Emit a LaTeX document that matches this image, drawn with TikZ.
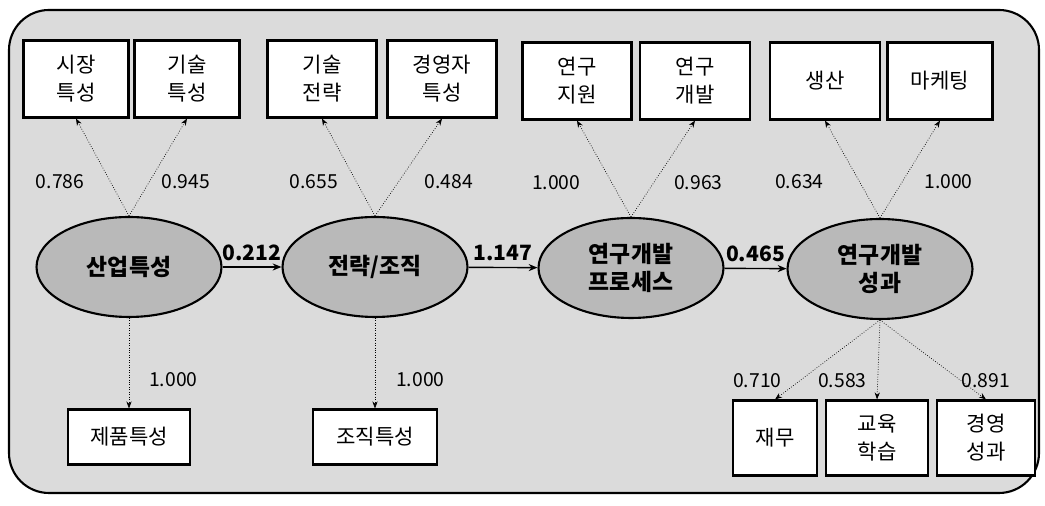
\documentclass[tikz,border=0pt]{standalone}
\usepackage{fontspec}
\setmainfont{Noto Sans CJK KR}
\usetikzlibrary{shapes.geometric, arrows.meta, positioning}

\tikzset{
  measure/.style={draw, very thick, fill=white, align=center, minimum width=2.1cm, minimum height=1.54cm, inner sep=1pt, font=\fontsize{12}{16}\selectfont},
  factor/.style={ellipse, draw, very thick, fill=gray!55, minimum width=3.7cm, minimum height=2cm, align=center, inner sep=1pt, font=\fontsize{13}{16}\selectfont\bfseries},
  load/.style={densely dotted, thin, -{Stealth[length=4pt, width=3pt]}},
  coef/.style={font=\fontsize{11}{13}\selectfont},
  effect/.style={thick, -{Stealth[length=5pt, width=4pt]}},
  pathcoef/.style={above, font=\fontsize{12}{14}\selectfont\bfseries},
}

\begin{document}
\begin{tikzpicture}[x=0.02cm, y=0.02cm]
  \useasboundingbox (0,0) rectangle (1045,506);
  \draw[very thick, fill=gray!28, rounded corners=0.8cm] (9,13) rectangle (1039,496);

  % latent factors
  \node[factor] (industry) at (129,239) {산업특성};
  \node[factor] (strategy) at (375,239) {전략/조직};
  \node[factor] (process) at (631,238) {연구개발\\프로세스};
  \node[factor] (outcome) at (880,237) {연구개발\\성과};

  % top measures
  \node[measure] (market) at (76,427) {시장\\특성};
  \node[measure] (tech) at (187,427) {기술\\특성};
  \node[measure, minimum width=2.18cm] (techstrat) at (322,427) {기술\\전략};
  \node[measure, minimum width=2.18cm] (ceo) at (442,427) {경영자\\특성};
  \node[measure, minimum width=2.18cm] (support) at (577,425) {연구\\지원};
  \node[measure, minimum width=2.2cm] (rnd) at (695,425) {연구\\개발};
  \node[measure, minimum width=2.2cm] (prod) at (825,425) {생산};
  \node[measure] (mkt) at (940,425) {마케팅};

  % bottom measures
  \node[measure, minimum width=2.44cm, minimum height=1.1cm] (product) at (129,69) {제품특성};
  \node[measure, minimum width=2.48cm, minimum height=1.1cm] (orgchar) at (375,69) {조직특성};
  \node[measure, minimum width=1.68cm, minimum height=1.5cm] (finance) at (775,68) {재무};
  \node[measure, minimum width=2.04cm, minimum height=1.5cm] (learning) at (877,68) {교육\\학습};
  \node[measure, minimum width=1.96cm, minimum height=1.5cm] (mgmt) at (986,68) {경영\\성과};

  % loadings
  \draw[load] (industry.north) -- node[coef, pos=0.35, left=0.4cm] {0.786} (market.south);
  \draw[load] (industry.north) -- node[coef, pos=0.35, right=0.12cm] {0.945} (tech.south);
  \draw[load] (strategy.north) -- node[coef, pos=0.35, left=0.25cm] {0.655} (techstrat.south);
  \draw[load] (strategy.north) -- node[coef, pos=0.35, right=0.4cm] {0.484} (ceo.south);
  \draw[load] (process.north) -- node[coef, pos=0.36, left=0.5cm] {1.000} (support.south);
  \draw[load] (process.north) -- node[coef, pos=0.36, right=0.28cm] {0.963} (rnd.south);
  \draw[load] (outcome.north) -- node[coef, pos=0.37, left=0.6cm] {0.634} (prod.south);
  \draw[load] (outcome.north) -- node[coef, pos=0.37, right=0.32cm] {1.000} (mkt.south);
  \draw[load] (industry.south) -- node[coef, pos=0.68, right=0.28cm] {1.000} (product.north);
  \draw[load] (strategy.south) -- node[coef, pos=0.68, right=0.3cm] {1.000} (orgchar.north);
  \draw[load] (outcome.south) -- node[coef, pos=0.76, left=0.25cm] {0.710} (finance.north);
  \draw[load] (outcome.south) -- node[coef, pos=0.76, left=0.1cm] {0.583} (learning.north);
  \draw[load] (outcome.south) -- node[coef, pos=0.76, anchor=west, xshift=-3pt] {0.891} (mgmt.north);

  % structural paths
  \draw[effect] (industry) -- node[pathcoef] {0.212} (strategy);
  \draw[effect] (strategy) -- node[pathcoef] {1.147} (process);
  \draw[effect] (process) -- node[pathcoef] {0.465} (outcome);
\end{tikzpicture}
\end{document}
